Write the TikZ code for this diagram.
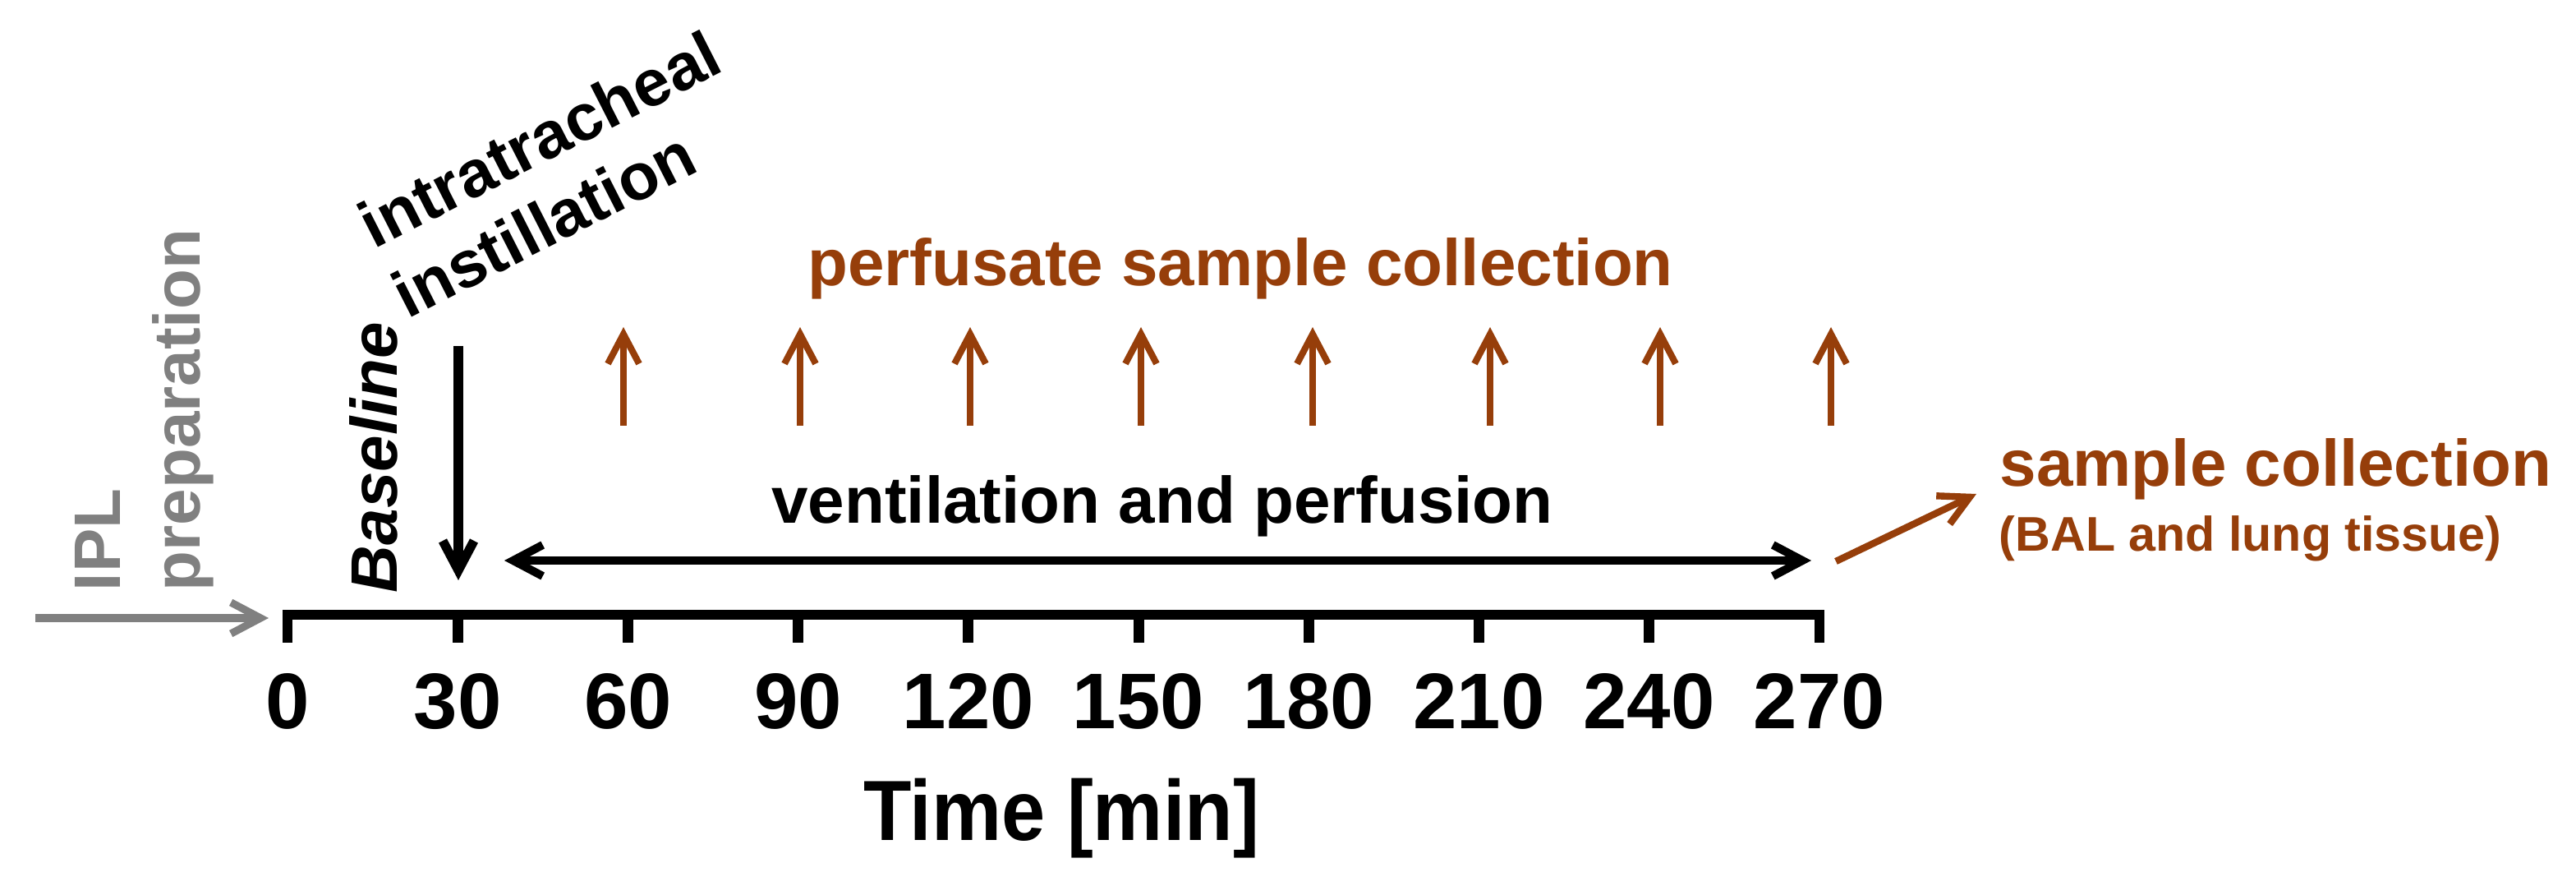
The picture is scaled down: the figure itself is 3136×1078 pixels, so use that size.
\documentclass[tikz,border=0pt]{standalone}
\usepackage{fontspec}
\setmainfont{Liberation Sans}
\usetikzlibrary{arrows.meta}
\definecolor{brn}{RGB}{150,62,10}
\definecolor{gry}{HTML}{808080}
\begin{document}
\begin{tikzpicture}[x=0.25pt,y=-0.25pt,
  lbl/.style={inner sep=0pt, font=\fontsize{20pt}{24pt}\selectfont\bfseries},
  small/.style={inner sep=0pt, font=\fontsize{14.8pt}{17pt}\selectfont\bfseries},
  tk/.style={inner sep=0pt, font=\fontsize{24pt}{28pt}\selectfont\bfseries, anchor=base},
  arr/.style={line width=2.5pt, -{Straight Barb[length=9pt,width=9.5pt]}},
  darr/.style={line width=2.5pt, {Straight Barb[length=9pt,width=9.5pt]}-{Straight Barb[length=9pt,width=9.5pt]}},
]
\useasboundingbox (0,0) rectangle (3136,1078);

% axis
\draw[line width=3pt, line join=miter] (350,782) -- (350,748) -- (2215,748) -- (2215,782);
\foreach \i in {1,...,8} \draw[line width=3.25pt] ({350+207.2*\i},748) -- ({350+207.2*\i},782);
\foreach \i/\v in {0/0,1/30,2/60,3/90,4/120,5/150,6/180,7/210,8/240,9/270}
  \node[tk] (t\i) at ({350+207.2*\i},887) {\v};
\node[inner sep=0pt, anchor=base, font=\fontsize{26pt}{30pt}\selectfont\bfseries] (time) at (1292,1022) {\scalebox{0.92}[1]{Time [min]}};

% IPL preparation
\node[lbl, text=gry, rotate=90, anchor=base west] (ipl) at (146,720) {IPL};
\node[lbl, text=gry, rotate=90, anchor=base west] (prep) at (243,720) {preparation};
\coordinate (g0) at (43,752);
\coordinate (g1) at (327,752);
\draw[arr, gry, line width=2.3pt] (g0) -- (g1);

% Baseline
\node[lbl, rotate=90, anchor=base west, font=\fontsize{20pt}{24pt}\selectfont\bfseries\itshape] (base) at (483,722) {Baseline};

% intratracheal instillation
\node[lbl, rotate=27, anchor=base west] (intra) at (455,304) {intratracheal};
\node[lbl, rotate=27, anchor=base west] (inst) at (496,389) {instillation};
\coordinate (d0) at (558,421);
\coordinate (d1) at (558,706);
\draw[arr, line width=2.8pt] (d0) -- (d1);

% ventilation and perfusion
\node[lbl, anchor=base] (vent) at (1415,637) {ventilation and perfusion};
\coordinate (v0) at (614,682);
\coordinate (v1) at (2205,682);
\draw[darr] (v0) -- (v1);

% perfusate sample collection
\node[lbl, text=brn, anchor=base] (perf) at (1510,348) {perfusate sample collection};
\foreach \x [count=\k] in {759,974,1181,1389,1598,1814,2021,2229} {
  \coordinate (pa\k) at (\x,518);
  \coordinate (pb\k) at (\x,398);
  \draw[arr, brn, line width=2pt] (pa\k) -- (pb\k);
}

% sample collection
\node[lbl, text=brn, anchor=base west] (samp) at (2434,592) {sample collection};
\node[small, text=brn, anchor=base west] (bal) at (2433,671) {(BAL and lung tissue)};
\coordinate (s0) at (2235,683);
\coordinate (s1) at (2406,601);
\draw[arr, brn, line width=2.1pt] (s0) -- (s1);
\end{tikzpicture}
\end{document}
